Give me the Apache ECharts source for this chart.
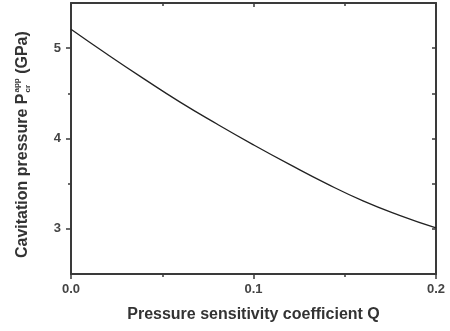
<!DOCTYPE html>
<html>
<head>
<meta charset="utf-8">
<script src="https://cdn.jsdelivr.net/npm/echarts@6/dist/echarts.min.js"></script>
<style>
  html, body { margin: 0; padding: 0; background: #fff; }
  #chart { width: 450px; height: 331px; }
</style>
</head>
<body>
<div id="chart"></div>
<script>
// values
var qValues = [0.0, 0.02, 0.04, 0.06, 0.08, 0.10, 0.12, 0.14, 0.16, 0.18, 0.20];
var pressure = [5.21, 4.93, 4.66, 4.40, 4.16, 3.93, 3.71, 3.50, 3.31, 3.15, 3.01];
var yMajor = [3, 4, 5];
var yMinor = [3.5, 4.5];

var chartDom = document.getElementById('chart');
var myChart = echarts.init(chartDom);

var axisColor = '#3a3a3a';
var font = 'Liberation Sans, Arial, sans-serif';

// measure text so the sup/sub parts of the y title sit right
var ctx = document.createElement('canvas').getContext('2d');
function textW(s, size) {
  ctx.font = 'bold ' + size + 'px ' + font;
  return ctx.measureText(s).width;
}
var t1 = 'Cavitation pressure P';
var t2 = ' (GPa)';
var w1 = textW(t1, 16);
var wSup = textW('app', 8);

var seriesData = qValues.map(function (q, i) { return [q, pressure[i]]; });

var option = {
  animation: false,
  backgroundColor: '#fff',
  grid: { left: 71, right: 14, top: 3, bottom: 57, containLabel: false },
  xAxis: [
    {
      type: 'value', position: 'bottom',
      min: 0, max: 0.2, interval: 0.1,
      name: 'Pressure sensitivity coefficient Q',
      nameLocation: 'middle', nameGap: 33,
      nameTextStyle: { fontFamily: font, fontWeight: 'bold', fontSize: 16, color: '#333' },
      axisLine: { lineStyle: { color: axisColor, width: 2 } },
      axisTick: { inside: false, length: 5, lineStyle: { color: axisColor, width: 1.5 } },
      minorTick: { show: true, splitNumber: 2, length: 3, lineStyle: { color: axisColor, width: 1.5 } },
      axisLabel: {
        margin: 9, fontFamily: font, fontWeight: 'bold', fontSize: 13, color: '#444',
        formatter: function (v) { return v.toFixed(1); }
      },
      splitLine: { show: false }
    },
    {
      type: 'value', position: 'top',
      min: 0, max: 0.2, interval: 0.1,
      axisLine: { lineStyle: { color: axisColor, width: 2 } },
      axisTick: { inside: true, length: 4, lineStyle: { color: axisColor, width: 1.5 } },
      minorTick: { show: true, splitNumber: 2, length: 3, lineStyle: { color: axisColor, width: 1.5 } },
      axisLabel: { show: false },
      splitLine: { show: false }
    }
  ],
  yAxis: [
    {
      type: 'value', position: 'left',
      min: 2.5, max: 5.5,
      axisLine: { lineStyle: { color: axisColor, width: 2 } },
      axisTick: { inside: false, length: 5, customValues: yMajor, lineStyle: { color: axisColor, width: 1.5 } },
      axisLabel: {
        customValues: yMajor, margin: 10,
        fontFamily: font, fontWeight: 'bold', fontSize: 13, color: '#444'
      },
      splitLine: { show: false }
    },
    {
      type: 'value', position: 'left',
      min: 2.5, max: 5.5,
      axisLine: { show: false },
      axisTick: { inside: false, length: 3, customValues: yMinor, lineStyle: { color: axisColor, width: 1.5 } },
      axisLabel: { show: false },
      splitLine: { show: false }
    },
    {
      type: 'value', position: 'right',
      min: 2.5, max: 5.5,
      axisLine: { lineStyle: { color: axisColor, width: 2 } },
      axisTick: { inside: true, length: 4, customValues: yMajor.concat(yMinor), lineStyle: { color: axisColor, width: 1.5 } },
      axisLabel: { show: false },
      splitLine: { show: false }
    }
  ],
  series: [
    {
      type: 'line',
      xAxisIndex: 0, yAxisIndex: 0,
      data: seriesData,
      smooth: true,
      showSymbol: false,
      lineStyle: { color: '#222', width: 1.3 }
    }
  ],
  graphic: [
    {
      type: 'group',
      x: 23, y: 258,
      rotation: Math.PI / 2,
      children: [
        { type: 'text', x: 0, y: 0, style: { text: t1, font: 'bold 16px ' + font, fill: '#333', textVerticalAlign: 'middle' } },
        { type: 'text', x: w1 + 1, y: -6, style: { text: 'app', font: 'bold 8px ' + font, fill: '#333', textVerticalAlign: 'middle' } },
        { type: 'text', x: w1 + 1, y: 5, style: { text: 'cr', font: 'bold 8px ' + font, fill: '#333', textVerticalAlign: 'middle' } },
        { type: 'text', x: w1 + wSup + 1, y: 0, style: { text: t2, font: 'bold 16px ' + font, fill: '#333', textVerticalAlign: 'middle' } }
      ]
    }
  ]
};

myChart.setOption(option);
</script>
</body>
</html>
